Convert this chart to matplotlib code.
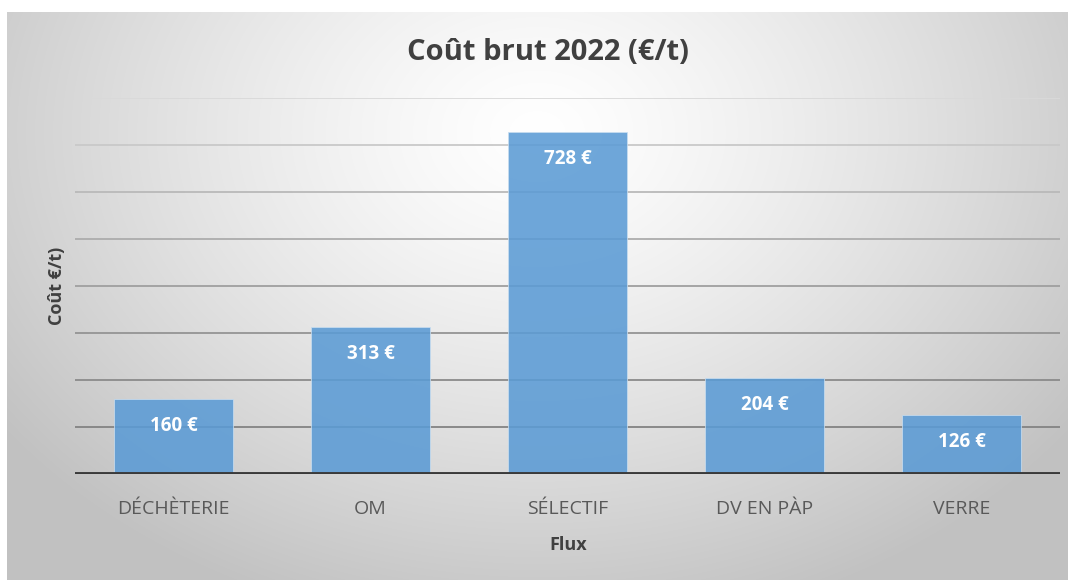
import numpy as np
import matplotlib
matplotlib.use("Agg")
import matplotlib.pyplot as plt

categories = ["DÉCHÈTERIE", "OM", "SÉLECTIF", "DV EN PÀP", "VERRE"]
values = [160, 313, 728, 204, 126]
value_labels = ["160 €", "313 €", "728 €", "204 €", "126 €"]
title = "Coût brut 2022 (€/t)"
xlabel = "Flux"
ylabel = "Coût €/t)"

plt.rcParams['font.family'] = ['Open Sans', 'DejaVu Sans']

W, H = 1076, 583
fig = plt.figure(figsize=(W / 100, H / 100), dpi=100)
fig.patch.set_facecolor("white")

# background gradient chart area
bg = fig.add_axes([7 / W, 3 / H, 1061 / W, 568 / H])
bg.set_axis_off()
yy, xx = np.mgrid[0:568, 0:1061]
cx, cy = 530, 120
d = np.sqrt(((xx - cx) / 680.0) ** 2 + ((yy - cy) / 520.0) ** 2)
g = np.clip(1.0 - 0.25 * d ** 1.3, 0.76, 1.0)
img = np.dstack([g, g, g])
bg.imshow(img, aspect="auto", extent=[0, 1, 0, 1], origin="upper")
bg.set_xlim(0, 1)
bg.set_ylim(0, 1)

ax = fig.add_axes([75 / W, (583 - 474) / H, 985 / W, 376 / H])
ax.patch.set_alpha(0)
x = np.arange(len(categories))
ax.set_xlim(-0.5, len(categories) - 0.5)
ax.set_ylim(0, 800)

# gridlines with slightly varying color (lighter at top)
for gv in range(100, 801, 100):
    t = gv / 800
    c = 0.50 + 0.35 * t ** 1.5
    ax.axhline(gv, color=(c, c, c), lw=1.3, zorder=1)

bars = ax.bar(x, values, width=0.6, color="#5b9bd5", alpha=0.88, zorder=2,
              edgecolor="#c9def0", linewidth=0.6)
ax.axhline(0, color="#3a3a3a", lw=2.8, zorder=3)

for xi, v, lab in zip(x, values, value_labels):
    ax.annotate(lab, (xi, v), xytext=(0, -27), textcoords="offset pixels",
                ha="center", va="center", color="white", fontsize=13.5,
                fontweight="bold", zorder=4)

ax.set_xticks(x)
ax.set_xticklabels(categories, fontsize=14, color="#595959")
ax.tick_params(axis="x", length=0, pad=19)
ax.set_yticks([])
for s in ax.spines.values():
    s.set_visible(False)

fig.text(548 / W, 1 - 52 / H, title, ha="center", va="center", fontsize=21,
         fontweight="bold", color="#404040")
fig.text(568 / W, 1 - 545 / H, xlabel, ha="center", va="center", fontsize=13,
         fontweight="bold", color="#404040")
fig.text(57 / W, 1 - 286 / H, ylabel, ha="center", va="center", fontsize=13,
         fontweight="bold", color="#404040", rotation=90)

fig.savefig("out.png", dpi=100)
